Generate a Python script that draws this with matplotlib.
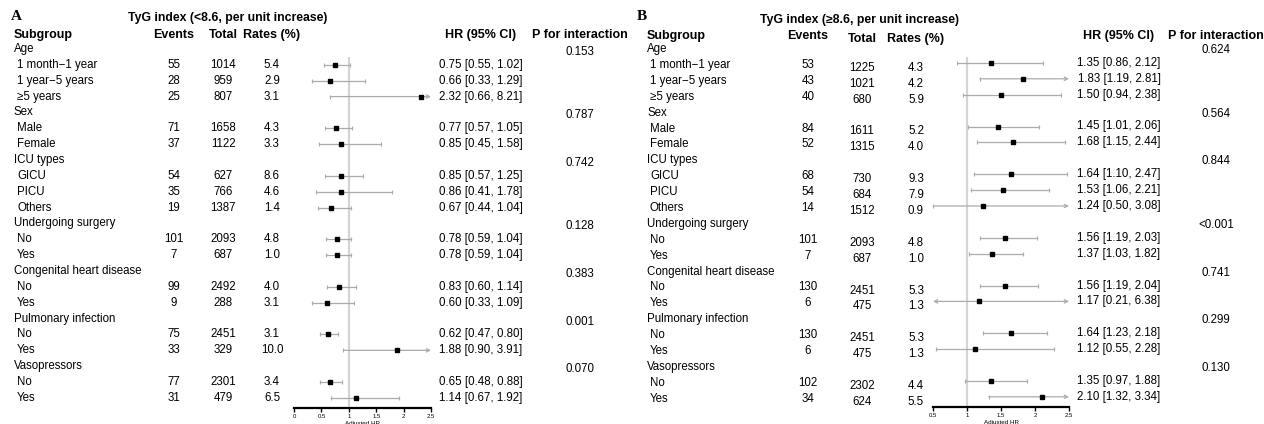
"""
Forest plots: TyG index subgroup analysis (<8.6 vs >=8.6)
"""
import matplotlib
matplotlib.use('Agg')
import matplotlib.pyplot as plt
import matplotlib.ticker as mticker

plt.rcParams['font.family'] = ['Liberation Sans', 'DejaVu Sans']

# ─────────────────────────────────────────────
# DATA
# ─────────────────────────────────────────────
row_labels = ["Age", "1 month\u22121 year", "1 year\u22125 years", "\u22655 years",
              "Sex", "Male", "Female",
              "ICU types", "GICU", "PICU", "Others",
              "Undergoing surgery", "No", "Yes",
              "Congenital heart disease", "No", "Yes",
              "Pulmonary infection", "No", "Yes",
              "Vasopressors", "No", "Yes"]
is_group = [True, False, False, False, True, False, False, True, False, False, False,
            True, False, False, True, False, False, True, False, False, True, False, False]

# Panel A: TyG < 8.6 (None on group rows)
a_events = [None, 55, 28, 25, None, 71, 37, None, 54, 35, 19, None, 101, 7, None, 99, 9, None, 75, 33, None, 77, 31]
a_total = [None, 1014, 959, 807, None, 1658, 1122, None, 627, 766, 1387, None, 2093, 687, None, 2492, 288, None, 2451, 329, None, 2301, 479]
a_rates = [None, 5.4, 2.9, 3.1, None, 4.3, 3.3, None, 8.6, 4.6, 1.4, None, 4.8, 1.0, None, 4.0, 3.1, None, 3.1, 10.0, None, 3.4, 6.5]
a_hr = [None, 0.75, 0.66, 2.32, None, 0.77, 0.85, None, 0.85, 0.86, 0.67, None, 0.78, 0.78, None, 0.83, 0.60, None, 0.62, 1.88, None, 0.65, 1.14]
a_lo = [None, 0.55, 0.33, 0.66, None, 0.57, 0.45, None, 0.57, 0.41, 0.44, None, 0.59, 0.59, None, 0.60, 0.33, None, 0.47, 0.90, None, 0.48, 0.67]
a_hi = [None, 1.02, 1.29, 8.21, None, 1.05, 1.58, None, 1.25, 1.78, 1.04, None, 1.04, 1.04, None, 1.14, 1.09, None, 0.80, 3.91, None, 0.88, 1.92]
a_p = ["0.153", None, None, None, "0.787", None, None, "0.742", None, None, None,
       "0.128", None, None, "0.383", None, None, "0.001", None, None, "0.070", None, None]

# Panel B: TyG >= 8.6
b_events = [None, 53, 43, 40, None, 84, 52, None, 68, 54, 14, None, 101, 7, None, 130, 6, None, 130, 6, None, 102, 34]
b_total = [None, 1225, 1021, 680, None, 1611, 1315, None, 730, 684, 1512, None, 2093, 687, None, 2451, 475, None, 2451, 475, None, 2302, 624]
b_rates = [None, 4.3, 4.2, 5.9, None, 5.2, 4.0, None, 9.3, 7.9, 0.9, None, 4.8, 1.0, None, 5.3, 1.3, None, 5.3, 1.3, None, 4.4, 5.5]
b_hr = [None, 1.35, 1.83, 1.50, None, 1.45, 1.68, None, 1.64, 1.53, 1.24, None, 1.56, 1.37, None, 1.56, 1.17, None, 1.64, 1.12, None, 1.35, 2.10]
b_lo = [None, 0.86, 1.19, 0.94, None, 1.01, 1.15, None, 1.10, 1.06, 0.50, None, 1.19, 1.03, None, 1.19, 0.21, None, 1.23, 0.55, None, 0.97, 1.32]
b_hi = [None, 2.12, 2.81, 2.38, None, 2.06, 2.44, None, 2.47, 2.21, 3.08, None, 2.03, 1.82, None, 2.04, 6.38, None, 2.18, 2.28, None, 1.88, 3.34]
b_p = ["0.624", None, None, None, "0.564", None, None, "0.844", None, None, None,
       "<0.001", None, None, "0.741", None, None, "0.299", None, None, "0.130", None, None]

W, H = 1264, 424
FS = 8.3
HFS = 9.0
LINE_C = '#ababab'
REF_C = '#d4d4d4'

fig = plt.figure(figsize=(W / 100, H / 100), dpi=100)
tab = fig.add_axes([0, 0, 1, 1])
tab.set_xlim(0, W)
tab.set_ylim(H, 0)
tab.axis('off')


def panel(letter, title, events, total, rates, hr, lo, hi, pvals, lay):
    y0, dy = lay['y0'], lay['dy']
    ry = lambda i: y0 + i * dy
    tab.text(lay['letter_x'], 17, letter, fontsize=11, fontweight='bold',
             family=['Liberation Serif', 'DejaVu Serif'], va='center')
    tab.text(lay['title_x'], lay['title_y'], title, fontsize=8.8, fontweight='bold', ha='center', va='center')
    hy = lay['head_y']
    tab.text(lay['sub_x'], hy, 'Subgroup', fontsize=HFS, fontweight='bold', va='center')
    tab.text(lay['ev_x'], hy, 'Events', fontsize=HFS, fontweight='bold', ha='center', va='center')
    tab.text(lay['tot_x'], hy + lay['shift_tr'], 'Total', fontsize=HFS, fontweight='bold', ha='center', va='center')
    tab.text(lay['rate_x'], hy + lay['shift_tr'], 'Rates (%)', fontsize=HFS, fontweight='bold', ha='center', va='center')
    tab.text(lay['hr_x'], hy, 'HR (95% CI)', fontsize=HFS, fontweight='bold', ha='center', va='center')
    tab.text(lay['p_x'], hy, 'P for interaction', fontsize=HFS, fontweight='bold', ha='center', va='center')

    for i, lab in enumerate(row_labels):
        y = ry(i)
        tab.text(lay['sub_x'] + (0 if is_group[i] else 3), y, lab, fontsize=FS, va='center')
        if pvals[i] is not None:
            tab.text(lay['p_x'], y + 3 + lay['shift_hr'], pvals[i], fontsize=FS, ha='center', va='center')
        if events[i] is None:
            continue
        tab.text(lay['ev_x'], y, f'{events[i]}', fontsize=FS, ha='center', va='center')
        tab.text(lay['tot_x'], y + lay['shift_tr'], f'{total[i]}', fontsize=FS, ha='center', va='center')
        tab.text(lay['rate_x'], y + lay['shift_tr'], f'{rates[i]:.1f}', fontsize=FS, ha='center', va='center')
        tab.text(lay['hr_x'], y + lay['shift_hr'], f'{hr[i]:.2f} [{lo[i]:.2f}, {hi[i]:.2f}]',
                 fontsize=FS, ha='center', va='center')

    # forest axes, aligned with the row grid
    left, right, top, bottom = lay['ax_px']
    ax = fig.add_axes([left / W, 1 - bottom / H, (right - left) / W, (bottom - top) / H])
    ax.patch.set_visible(False)
    ax.set_xlim(*lay['xlim'])
    ax.set_ylim((bottom - y0 - lay['shift_hr']) / dy, (top - y0 - lay['shift_hr']) / dy)
    ax.axvline(1, color=REF_C, lw=1.6, zorder=0)
    xmin, xmax = lay['xlim']
    for i in range(len(row_labels)):
        if hr[i] is None:
            continue
        l, h = max(lo[i], xmin), min(hi[i], xmax)
        cl, ch = lo[i] < xmin, hi[i] > xmax
        if cl or ch:
            style = '<->' if (cl and ch) else ('->' if ch else '<-')
            ax.annotate('', xy=(h, i), xytext=(l, i),
                        arrowprops=dict(arrowstyle=style, color=LINE_C, lw=0.9,
                                        shrinkA=0, shrinkB=0, mutation_scale=6))
        else:
            ax.plot([l, h], [i, i], color=LINE_C, lw=0.9)
        caps = [v for v, c in ((l, cl), (h, ch)) if not c]
        if caps:
            ax.plot(caps, [i] * len(caps), ls='none', marker='|', ms=3.5, mew=0.8, color=LINE_C)
        ax.plot(hr[i], i, marker='s', ms=3.3, color='black', ls='none', zorder=3)

    for s in ('left', 'top', 'right'):
        ax.spines[s].set_visible(False)
    ax.spines['bottom'].set_linewidth(1.6)
    ax.set_yticks([])
    ax.set_xticks(lay['ticks'])
    ax.xaxis.set_major_formatter(mticker.FuncFormatter(lambda v, _: f'{v:g}'))
    ax.tick_params(axis='x', labelsize=4.3, length=3, width=1, pad=1.5)
    ax.set_xlabel('Adjusted HR', fontsize=4.5, labelpad=1)


lay_a = dict(y0=49, dy=15.86, letter_x=11, title_x=228, title_y=18, head_y=35, sub_x=14,
             ev_x=174, tot_x=223, rate_x=272, hr_x=481, p_x=580, shift_tr=0, shift_hr=0,
             ax_px=(294, 431, 57, 408), xlim=(0, 2.5), ticks=[0, 0.5, 1, 1.5, 2, 2.5])
lay_b = dict(y0=49, dy=15.9, letter_x=637, title_x=860, title_y=20, head_y=36, sub_x=647,
             ev_x=808, tot_x=862, rate_x=916, hr_x=1119, p_x=1216, shift_tr=3, shift_hr=-2,
             ax_px=(933, 1069, 57, 407), xlim=(0.5, 2.5), ticks=[0.5, 1, 1.5, 2, 2.5])

panel('A', 'TyG index (<8.6, per unit increase)', a_events, a_total, a_rates,
      a_hr, a_lo, a_hi, a_p, lay_a)
panel('B', 'TyG index (\u22658.6, per unit increase)', b_events, b_total, b_rates,
      b_hr, b_lo, b_hi, b_p, lay_b)

fig.savefig('out.png', dpi=100)
plt.close(fig)
